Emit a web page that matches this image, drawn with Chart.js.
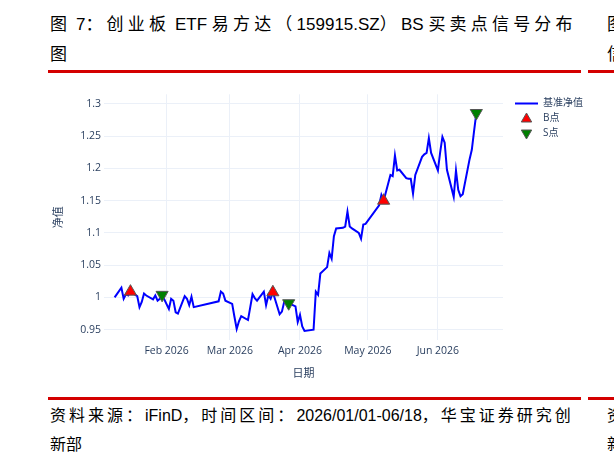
<!DOCTYPE html>
<html>
<head>
<meta charset="utf-8">
<script src="https://cdn.jsdelivr.net/npm/chart.js@4/dist/chart.umd.min.js"></script>
<style>
    html, body { margin: 0; padding: 0; background: #fff; }
    body { width: 614px; height: 468px; position: relative; overflow: hidden; font-family: "Liberation Sans", "Noto Sans CJK SC", sans-serif; color: #000; }
    .linha { position: absolute; font-size: 16px; height: 30px; line-height: 30px; white-space: nowrap; }
    .titulo { font-size: 17px; }
    .titulo .c { letter-spacing: 4.2px; }
    .fonte .c { letter-spacing: 3px; }
    .vermelho { position: absolute; height: 3px; background: #d40000; }
    #grafico { position: absolute; left: 0; top: 85px; }
</style>
</head>
<body>
<div class="linha titulo" style="left:50px; top:10px;"><span class="c">图</span> 7<span class="c">：创业板</span> ETF <span class="c">易方达（</span>159915.SZ<span class="c">）</span>BS <span class="c">买卖点信号分布</span></div>
<div class="linha titulo" style="left:50px; top:40px;">图</div>
<div class="vermelho" style="left:48px; top:70px; width:533px;"></div>

<div class="linha titulo" style="left:607px; top:10px;">图</div>
<div class="linha titulo" style="left:607px; top:40px;">信</div>
<div class="vermelho" style="left:588px; top:70px; width:40px;"></div>

<canvas id="grafico" width="614" height="310"></canvas>

<div class="vermelho" style="left:48px; top:397px; width:533px;"></div>
<div class="linha fonte" style="left:50px; top:401px;"><span class="c">资料来源：</span>iFinD<span class="c">，时间区间：</span>2026/01/01-06/18<span class="c">，华宝证券研究创</span></div>
<div class="linha" style="left:50px; top:430px;">新部</div>
<div class="vermelho" style="left:588px; top:397px; width:40px;"></div>
<div class="linha" style="left:607px; top:401px;">资</div>
<div class="linha" style="left:607px; top:430px;">新</div>

<script>
// datas de negociação (2026) e valor líquido do benchmark
const datas = [
    '01-09', '01-12', '01-13', '01-14', '01-15', '01-16', '01-19', '01-20', '01-21', '01-22', '01-23',
    '01-26', '01-27', '01-28', '01-29', '01-30',
    '02-02', '02-03', '02-04', '02-05', '02-06', '02-09', '02-10', '02-11', '02-12', '02-13',
    '02-24', '02-25', '02-26', '02-27',
    '03-02', '03-03', '03-04', '03-05', '03-06', '03-09', '03-10', '03-11', '03-12', '03-13',
    '03-16', '03-17', '03-18', '03-19', '03-20', '03-23', '03-24', '03-25', '03-26', '03-27',
    '03-30', '03-31', '04-01', '04-02', '04-03', '04-07', '04-08', '04-09', '04-10',
    '04-13', '04-14', '04-15', '04-16', '04-17', '04-20', '04-21', '04-22', '04-23', '04-24',
    '04-27', '04-28', '04-29', '04-30', '05-06', '05-07', '05-08',
    '05-11', '05-12', '05-13', '05-14', '05-15', '05-18', '05-19', '05-20', '05-21', '05-22',
    '05-25', '05-26', '05-27', '05-28', '05-29', '06-01', '06-02', '06-03', '06-04', '06-05',
    '06-08', '06-09', '06-10', '06-11', '06-12', '06-15', '06-16', '06-17', '06-18'
]
const valores = [
    1.000, 1.015, 0.998, 1.005, 1.003, 1.009, 1.002, 0.985, 0.993, 1.006, 1.003,
    0.997, 1.003, 0.995, 0.998, 1.004,
    0.982, 0.998, 0.995, 0.977, 0.975, 1.002, 0.998, 0.988, 1.001, 0.985,
    0.994, 1.009, 1.006, 0.995,
    0.990, 0.970, 0.951, 0.963, 0.971, 0.965, 0.985, 1.005, 0.999, 0.995,
    1.009, 0.988, 1.003, 0.998, 1.008, 0.974, 0.978, 0.993, 0.994, 0.991,
    0.986, 0.962, 0.973, 0.955, 0.948, 0.950, 1.009, 1.004, 1.037,
    1.047, 1.069, 1.060, 1.095, 1.107, 1.108, 1.110, 1.133, 1.110, 1.107,
    1.100, 1.091, 1.113, 1.114, 1.143, 1.159, 1.150,
    1.190, 1.188, 1.220, 1.197, 1.198, 1.185, 1.184, 1.184, 1.161, 1.190,
    1.218, 1.222, 1.224, 1.247, 1.224, 1.197, 1.225, 1.249, 1.240, 1.198,
    1.156, 1.197, 1.167, 1.157, 1.160, 1.214, 1.229, 1.258, 1.286
]
const datasB = ['01-16', '03-20', '05-08']
const datasS = ['01-30', '03-27', '06-18']

const mesesTicks = ['02-01', '03-01', '04-01', '05-01', '06-01']
const mesesLabels = ['Feb 2026', 'Mar 2026', 'Apr 2026', 'May 2026', 'Jun 2026']
const yTicks = [0.95, 1, 1.05, 1.1, 1.15, 1.2, 1.25, 1.3]

function diaDoAno(mmdd) {
    const [m, d] = mmdd.split('-').map(Number)
    return (Date.UTC(2026, m - 1, d) - Date.UTC(2026, 0, 1)) / 86400000
}

const pontosLinha = datas.map((d, i) => ({ x: diaDoAno(d), y: valores[i] }))
const pontosB = datasB.map(d => ({ x: diaDoAno(d), y: valores[datas.indexOf(d)] }))
const pontosS = datasS.map(d => ({ x: diaDoAno(d), y: valores[datas.indexOf(d)] }))
const posMeses = mesesTicks.map(diaDoAno)

const corTexto = '#2a3f5f'
const corGrade = '#EBF0F8'

function triangulo(ctx, x, y, r, paraBaixo, preenchimento) {
    const s = paraBaixo ? -1 : 1
    ctx.beginPath()
    ctx.moveTo(x, y - s * r)
    ctx.lineTo(x + r * 0.866, y + s * r * 0.5)
    ctx.lineTo(x - r * 0.866, y + s * r * 0.5)
    ctx.closePath()
    ctx.fillStyle = preenchimento
    ctx.fill()
    ctx.lineWidth = 1
    ctx.strokeStyle = '#555'
    ctx.stroke()
}

const legenda = {
    id: 'legenda',
    afterDraw(chart) {
        const ctx = chart.ctx
        ctx.save()
        ctx.strokeStyle = '#0000ff'
        ctx.lineWidth = 2
        ctx.beginPath()
        ctx.moveTo(515, 18.5)
        ctx.lineTo(538, 18.5)
        ctx.stroke()
        triangulo(ctx, 526.5, 34, 6, false, 'red')
        triangulo(ctx, 526.5, 48, 6, true, 'green')
        ctx.fillStyle = corTexto
        ctx.font = '10px "Open Sans", "Noto Sans CJK SC", sans-serif'
        ctx.textBaseline = 'middle'
        ctx.fillText('基准净值', 543, 18.5)
        ctx.fillText('B点', 543, 33.5)
        ctx.fillText('S点', 543, 48.5)
        ctx.restore()
    }
}

Chart.defaults.font.family = '"Open Sans", "Noto Sans CJK SC", sans-serif'
Chart.defaults.color = corTexto

new Chart(document.getElementById('grafico'), {
    type: 'scatter',
    data: {
        datasets: [
            {
                label: '基准净值',
                data: pontosLinha,
                showLine: true,
                borderColor: '#0000ff',
                borderWidth: 2,
                pointRadius: 0,
                tension: 0,
                order: 2
            },
            {
                label: 'B点',
                data: pontosB,
                pointStyle: 'triangle',
                pointRadius: 7,
                pointHoverRadius: 7,
                backgroundColor: 'red',
                borderColor: '#555',
                borderWidth: 1,
                order: 1
            },
            {
                label: 'S点',
                data: pontosS,
                pointStyle: 'triangle',
                rotation: 180,
                pointRadius: 7,
                pointHoverRadius: 7,
                backgroundColor: 'green',
                borderColor: '#555',
                borderWidth: 1,
                order: 1
            }
        ]
    },
    options: {
        responsive: false,
        animation: false,
        layout: { padding: { top: 7, left: 48, right: 111, bottom: 0 } },
        plugins: {
            legend: { display: false },
            tooltip: { enabled: false }
        },
        scales: {
            x: {
                type: 'linear',
                min: 3.3,
                max: 179.8,
                afterBuildTicks: scale => { scale.ticks = posMeses.map(v => ({ value: v })) },
                afterFit: scale => { scale.height = 55 },
                ticks: {
                    padding: 5,
                    maxRotation: 0,
                    font: { size: 10.5 },
                    callback: v => mesesLabels[posMeses.indexOf(v)]
                },
                grid: { color: corGrade, drawTicks: false },
                border: { display: false },
                title: { display: true, text: '日期', font: { size: 11 }, padding: { top: 0, bottom: 15 } }
            },
            y: {
                min: 0.934,
                max: 1.315,
                afterBuildTicks: scale => { scale.ticks = yTicks.map(v => ({ value: v })) },
                afterFit: scale => { scale.width = 56 },
                ticks: {
                    padding: 3,
                    font: { size: 10.5 },
                    callback: v => String(+v.toFixed(2))
                },
                grid: { color: corGrade, drawTicks: false },
                border: { display: false },
                title: { display: true, text: '净值', font: { size: 11 }, padding: { top: 4, bottom: 0 } }
            }
        }
    },
    plugins: [legenda]
})
</script>
</body>
</html>
